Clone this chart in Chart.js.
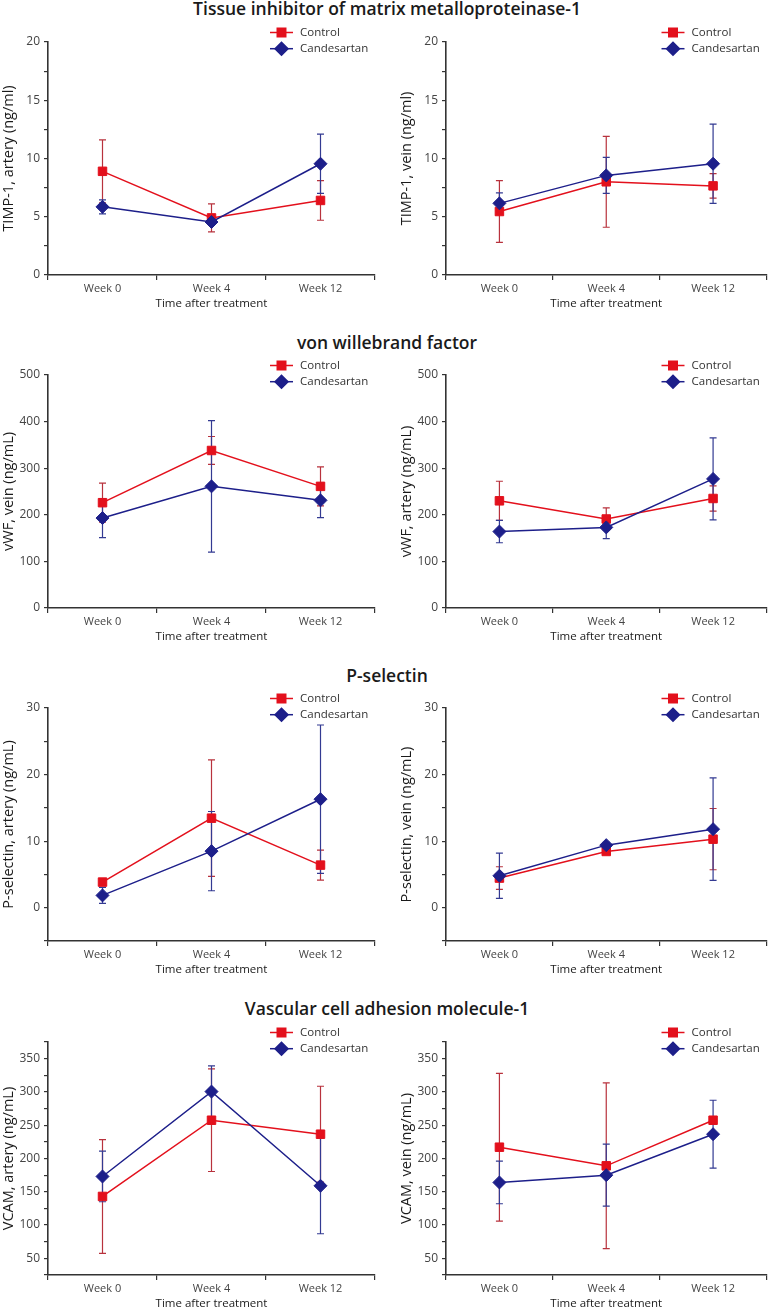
<!DOCTYPE html>
<html>
<head>
<meta charset="utf-8">
<script src="https://cdn.jsdelivr.net/npm/chart.js@4.4.0/dist/chart.umd.min.js"></script>
<style>
body { margin: 0; background: #fff; width: 774px; height: 1309px; position: relative; overflow: hidden; font-family: "Open Sans", sans-serif; }
.sec { position: absolute; left: 0; width: 774px; text-align: center; font-weight: 600; font-size: 17.5px; line-height: 20px; color: #1a1a1a; }
canvas { position: absolute; }
</style>
</head>
<body>
<div class="sec" style="top:-2px">Tissue inhibitor of matrix metalloproteinase-1</div>
<div class="sec" style="top:332px">von willebrand factor</div>
<div class="sec" style="top:665px">P-selectin</div>
<div class="sec" style="top:998px">Vascular cell adhesion molecule-1</div>
<script>
// categories
const weeks = ['Week 0', 'Week 4', 'Week 12'];
const seriesNames = ['Control', 'Candesartan'];

// TIMP-1, artery
const timpArteryControl = [8.9, 4.9, 6.4];
const timpArteryControlErr = [2.7, 1.2, 1.7];
const timpArteryCand = [5.85, 4.55, 9.55];
const timpArteryCandErr = [0.6, 0.3, 2.55];

// TIMP-1, vein
const timpVeinControl = [5.45, 8.0, 7.65];
const timpVeinControlErr = [2.65, 3.9, 1.05];
const timpVeinCand = [6.15, 8.55, 9.55];
const timpVeinCandErr = [0.9, 1.55, 3.4];

// vWF, vein
const vwfVeinControl = [226, 338, 261];
const vwfVeinControlErr = [42, 30, 42];
const vwfVeinCand = [193, 261, 231];
const vwfVeinCandErr = [42, 141, 37];

// vWF, artery
const vwfArteryControl = [230, 191, 235];
const vwfArteryControlErr = [42, 24, 27];
const vwfArteryCand = [164, 173, 277];
const vwfArteryCandErr = [24, 24, 88];

// P-selectin, artery
const pselArteryControl = [3.85, 13.45, 6.4];
const pselArteryControlErr = [0.5, 8.75, 2.25];
const pselArteryCand = [1.85, 8.5, 16.3];
const pselArteryCandErr = [1.2, 5.95, 11.15];

// P-selectin, vein
const pselVeinControl = [4.45, 8.45, 10.3];
const pselVeinControlErr = [1.7, 0.4, 4.6];
const pselVeinCand = [4.8, 9.4, 11.8];
const pselVeinCandErr = [3.4, 0.4, 7.7];

// VCAM, artery
const vcamArteryControl = [143, 257.5, 236.5];
const vcamArteryControlErr = [85.5, 77, 72];
const vcamArteryCand = [173, 300.5, 159];
const vcamArteryCandErr = [38, 38.5, 72];

// VCAM, vein
const vcamVeinControl = [217, 189, 257.5];
const vcamVeinControlErr = [111, 124.5, 5];
const vcamVeinCand = [164, 175, 236.5];
const vcamVeinCandErr = [32, 46.5, 51];

// y axis ranges: [min, max, step, labelled every]
const timpRange = [0, 20, 2.5, 5];
const vwfRange = [0, 500, 100, 100];
const pselRange = [-5, 30, 5, 10];
const vcamRange = [25, 375, 25, 50];

const panels = [
  { row: 0, col: 0, yTitle: 'TIMP-1, artery (ng/ml)', range: timpRange, ctl: timpArteryControl, ctlErr: timpArteryControlErr, cand: timpArteryCand, candErr: timpArteryCandErr },
  { row: 0, col: 1, yTitle: 'TIMP-1, vein (ng/ml)', range: timpRange, ctl: timpVeinControl, ctlErr: timpVeinControlErr, cand: timpVeinCand, candErr: timpVeinCandErr },
  { row: 1, col: 0, yTitle: 'vWF, vein (ng/mL)', range: vwfRange, ctl: vwfVeinControl, ctlErr: vwfVeinControlErr, cand: vwfVeinCand, candErr: vwfVeinCandErr },
  { row: 1, col: 1, yTitle: 'vWF, artery (ng/mL)', range: vwfRange, ctl: vwfArteryControl, ctlErr: vwfArteryControlErr, cand: vwfArteryCand, candErr: vwfArteryCandErr },
  { row: 2, col: 0, yTitle: 'P-selectin, artery (ng/mL)', range: pselRange, ctl: pselArteryControl, ctlErr: pselArteryControlErr, cand: pselArteryCand, candErr: pselArteryCandErr },
  { row: 2, col: 1, yTitle: 'P-selectin, vein (ng/mL)', range: pselRange, ctl: pselVeinControl, ctlErr: pselVeinControlErr, cand: pselVeinCand, candErr: pselVeinCandErr },
  { row: 3, col: 0, yTitle: 'VCAM, artery (ng/mL)', range: vcamRange, ctl: vcamArteryControl, ctlErr: vcamArteryControlErr, cand: vcamArteryCand, candErr: vcamArteryCandErr },
  { row: 3, col: 1, yTitle: 'VCAM, vein (ng/mL)', range: vcamRange, ctl: vcamVeinControl, ctlErr: vcamVeinControlErr, cand: vcamVeinCand, candErr: vcamVeinCandErr }
];

// layout of the rows
const rowTop = [20, 354, 688, 1020];
const rowPadTop = [22, 21, 20, 22];
const rowPlotH = [233, 233, 233.5, 233];

const FONT = '"Open Sans", sans-serif';
const RED = '#e3101c';
const BLUE = '#1d1f8a';

// error bars drawn under the lines and markers
const errorBars = {
  id: 'errorBars',
  beforeDatasetsDraw(chart) {
    const { ctx, scales: { x, y } } = chart;
    chart.data.datasets.forEach(ds => {
      ctx.save();
      ctx.strokeStyle = ds.errColor;
      ctx.lineWidth = 1.2;
      ds.data.forEach((v, j) => {
        const px = x.getPixelForValue(j);
        const top = y.getPixelForValue(v + ds.err[j]);
        const bot = y.getPixelForValue(v - ds.err[j]);
        ctx.beginPath();
        ctx.moveTo(px, top); ctx.lineTo(px, bot);
        ctx.moveTo(px - 3.5, top); ctx.lineTo(px + 3.5, top);
        ctx.moveTo(px - 3.5, bot); ctx.lineTo(px + 3.5, bot);
        ctx.stroke();
      });
      ctx.restore();
    });
  }
};

// legend in the upper right corner
const cornerLegend = {
  id: 'cornerLegend',
  afterDraw(chart) {
    const { ctx, chartArea } = chart;
    const x0 = chartArea.right - 105;
    chart.data.datasets.forEach((ds, i) => {
      const yy = chartArea.top - 9.5 + i * 16.2;
      ctx.save();
      ctx.strokeStyle = ds.borderColor;
      ctx.lineWidth = 1.5;
      ctx.beginPath();
      ctx.moveTo(x0, yy); ctx.lineTo(x0 + 23, yy);
      ctx.stroke();
      ctx.fillStyle = ds.pointBackgroundColor;
      ctx.strokeStyle = ds.pointBackgroundColor;
      Chart.helpers.drawPoint(ctx, { pointStyle: ds.pointStyle, radius: ds.pointRadius, borderWidth: 1 }, x0 + 11.5, yy);
      ctx.fillStyle = '#333';
      ctx.font = '11.5px ' + FONT;
      ctx.textBaseline = 'middle';
      ctx.fillText(ds.label, x0 + 30, yy);
      ctx.restore();
    });
  }
};

panels.forEach(p => {
  const canvas = document.createElement('canvas');
  const top = rowTop[p.row];
  const h = rowPadTop[p.row] + rowPlotH[p.row] + 36;
  canvas.width = 387;
  canvas.height = h;
  canvas.style.left = (p.col * 387) + 'px';
  canvas.style.top = top + 'px';
  document.body.appendChild(canvas);

  const [ymin, ymax, ystep, ymajor] = p.range;

  new Chart(canvas, {
    type: 'line',
    data: {
      labels: weeks,
      datasets: [
        { label: seriesNames[0], data: p.ctl, err: p.ctlErr, errColor: '#b8323d', borderColor: RED, borderWidth: 1.5,
          pointStyle: 'rect', pointRadius: 6, pointBackgroundColor: RED, pointBorderColor: RED, pointBorderWidth: 1, order: 1 },
        { label: seriesNames[1], data: p.cand, err: p.candErr, errColor: '#333a92', borderColor: BLUE, borderWidth: 1.5,
          pointStyle: 'rectRot', pointRadius: 6.5, pointBackgroundColor: BLUE, pointBorderColor: BLUE, pointBorderWidth: 1, order: 0 }
      ]
    },
    options: {
      responsive: false,
      animation: false,
      devicePixelRatio: 1,
      layout: { padding: { top: rowPadTop[p.row], left: p.col ? 11 : 0, right: p.col ? 1 : 12, bottom: 0 } },
      plugins: { legend: { display: false }, tooltip: { enabled: false } },
      scales: {
        x: {
          offset: true,
          grid: { offset: true, drawOnChartArea: false, drawTicks: true, tickLength: 5, color: '#333', lineWidth: 1.2 },
          border: { color: '#333', width: 1.6 },
          ticks: { color: '#444', font: { family: FONT, size: 11 }, padding: 2 },
          title: { display: true, text: 'Time after treatment', color: '#1a1a1a', font: { family: FONT, size: 11.5 }, padding: 0 },
          afterFit(s) { s.height = 36; }
        },
        y: {
          min: ymin, max: ymax,
          grid: { drawOnChartArea: false, drawTicks: true, tickLength: 4, color: '#333', lineWidth: 1.2 },
          border: { color: '#333', width: 1.6 },
          ticks: {
            stepSize: ystep, autoSkip: false, color: '#444', padding: 4,
            font: { family: FONT, size: 12 },
            callback: v => (v % ymajor === 0 ? v : '')
          },
          title: { display: true, text: p.yTitle, color: '#1a1a1a', font: { family: FONT, size: 14.5 }, padding: 0 },
          afterFit(s) { s.width = 48; }
        }
      }
    },
    plugins: [errorBars, cornerLegend]
  });
});
</script>
</body>
</html>
